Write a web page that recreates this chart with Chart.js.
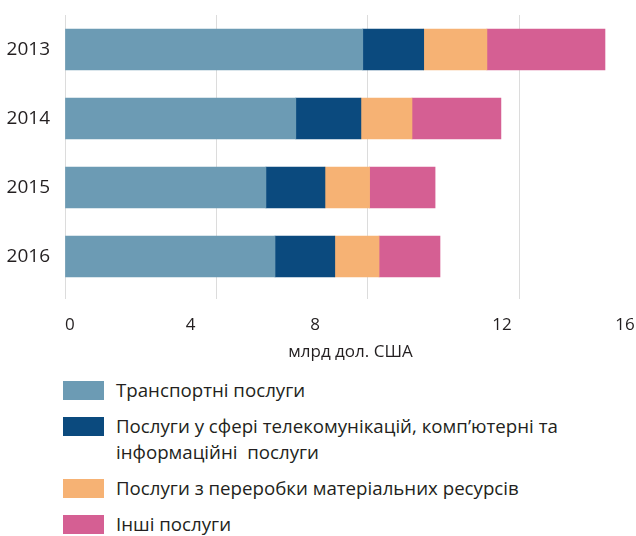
<!DOCTYPE html>
<html>
<head>
<meta charset="utf-8">
<script src="https://cdn.jsdelivr.net/npm/chart.js@4.4.1/dist/chart.umd.min.js"></script>
<style>
  html, body { margin: 0; padding: 0; background: #fff; }
  #wrap { position: relative; width: 636px; height: 536px; font-family: 'Open Sans', sans-serif; color: #231f20; }
  #chartBox { position: absolute; left: 0; top: 0; width: 636px; height: 370px; }
  #legend { position: absolute; left: 63px; top: 377px; margin: 0; padding: 0; list-style: none; }
  #legend li { display: flex; align-items: flex-start; margin: 0 0 10px 0; font-size: 18.7px; line-height: 26px; }
  #legend .box { width: 41px; height: 19px; margin: 4px 12px 0 0; flex: none; }
  #legend .txt { white-space: pre-wrap; }
</style>
</head>
<body>
<div id="wrap">
  <div id="chartBox"><canvas id="servChart" width="636" height="370"></canvas></div>
  <ul id="legend"></ul>
</div>
<script>
// експорт послуг, млрд дол. США
const years = ['2013', '2014', '2015', '2016']
const transport = [7.87, 6.10, 5.31, 5.55]
const telecom = [1.61, 1.72, 1.56, 1.58]
const processing = [1.67, 1.35, 1.18, 1.17]
const other = [3.12, 2.35, 1.73, 1.61]

const seriesNames = [
  'Транспортні послуги',
  'Послуги у сфері телекомунікацій, комп’ютерні та\nінформаційні  послуги',
  'Послуги з переробки матеріальних ресурсів',
  'Інші послуги'
]
const gridValues = [0, 4, 8, 12]
const tickLabels = ['0', '4', '8', '12', '16']
const axisTitle = 'млрд дол. США'

const colors = ['#6c9bb4', '#0b4a7e', '#f6b274', '#d55f93']
const textColor = '#231f20'
const fontFamily = "'Open Sans', sans-serif"

// у вихідному малюнку підписи осі стоять не під лініями сітки
const labelAt = [0.13, 3.32, 6.61, 11.55, 14.80]
const xMax = 15.09

const ctx = document.getElementById('servChart').getContext('2d')
const chart = new Chart(ctx, {
  type: 'bar',
  data: {
    labels: years,
    datasets: [transport, telecom, processing, other].map((vals, i) => ({
      label: seriesNames[i],
      data: vals,
      backgroundColor: colors[i],
      borderWidth: 0,
      barThickness: 41
    }))
  },
  options: {
    indexAxis: 'y',
    responsive: false,
    animation: false,
    layout: { padding: { top: 15, left: 0, right: 0, bottom: 0 } },
    plugins: {
      legend: { display: false },
      tooltip: { enabled: true }
    },
    scales: {
      x: {
        type: 'linear',
        stacked: true,
        min: 0,
        max: xMax,
        position: 'bottom',
        weight: 0,
        z: 1,
        grid: { color: 'rgba(214, 214, 214, 0.85)', lineWidth: 1, tickLength: 8 },
        border: { display: false },
        ticks: { display: false },
        afterBuildTicks: (scale) => {
          scale.ticks = gridValues.map(v => ({ value: v }))
        },
        afterFit: (scale) => { scale.height = 8 }
      },
      x2: {
        type: 'linear',
        min: 0,
        max: xMax,
        position: 'bottom',
        weight: 1,
        // невидимі риски дають лише відступ підписів
        grid: { display: false, drawTicks: true, tickLength: 16 },
        border: { display: false },
        ticks: {
          autoSkip: false,
          maxRotation: 0,
          padding: 0,
          color: textColor,
          font: { size: 17, family: fontFamily },
          callback: (v, i) => tickLabels[i]
        },
        title: {
          display: true,
          text: axisTitle,
          color: textColor,
          font: { size: 17, family: fontFamily },
          padding: { top: 0, bottom: 8 }
        },
        afterBuildTicks: (scale) => {
          scale.ticks = labelAt.map(v => ({ value: v }))
        },
        afterFit: (scale) => { scale.height = 71 }
      },
      y: {
        stacked: true,
        grid: { display: false, drawTicks: true, tickLength: 15 },
        border: { display: false },
        ticks: {
          padding: 0,
          color: textColor,
          font: { size: 19, family: fontFamily }
        },
        afterFit: (scale) => { scale.width = 65 }
      }
    }
  }
})

// легенда під графіком
const legend = document.getElementById('legend')
chart.data.datasets.forEach(ds => {
  const li = document.createElement('li')
  const box = document.createElement('span')
  box.className = 'box'
  box.style.background = ds.backgroundColor
  const txt = document.createElement('span')
  txt.className = 'txt'
  txt.textContent = ds.label
  li.appendChild(box)
  li.appendChild(txt)
  legend.appendChild(li)
})
</script>
</body>
</html>
